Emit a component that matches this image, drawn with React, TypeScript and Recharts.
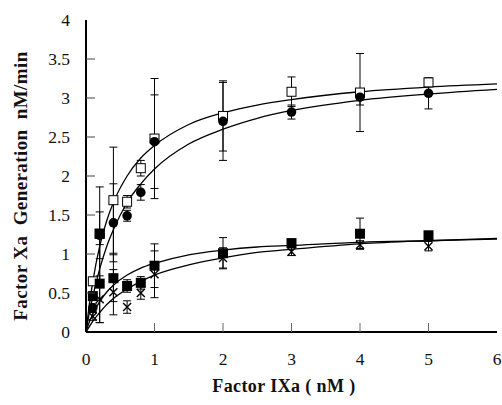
import { ComposedChart, Line, Scatter, ErrorBar, XAxis, YAxis } from 'recharts';

// measured points: [IXa nM] -> Xa generation nM/min, error = +/- half bar
const openSqX = [0.1, 0.2, 0.4, 0.6, 0.8, 1, 2, 3, 4, 5];
const openSqY = [0.65, 1.26, 1.69, 1.67, 2.1, 2.48, 2.77, 3.08, 3.07, 3.2];
const openSqErr = [0.05, 0.6, 0.68, 0.08, 0.1, 0.77, 0.45, 0.19, 0.5, 0.05];

const circleX = [0.1, 0.2, 0.4, 0.6, 0.8, 1, 2, 3, 4, 5];
const circleY = [0.31, 1.24, 1.4, 1.49, 1.79, 2.44, 2.7, 2.82, 3.01, 3.06];
const circleErr = [0.05, 0.3, 0.5, 0.07, 0.1, 0.6, 0.5, 0.09, 0.1, 0.2];

const fSqX = [0.1, 0.2, 0.2, 0.4, 0.6, 0.8, 1, 2, 3, 4, 5];
const fSqY = [0.46, 0.62, 1.26, 0.69, 0.59, 0.63, 0.85, 1.01, 1.14, 1.26, 1.24];
const fSqErr = [0.05, 0.5, 0, 0.3, 0.08, 0.08, 0.28, 0.2, 0.03, 0.2, 0.03];

const crossX = [0.1, 0.2, 0.4, 0.6, 0.8, 1, 2, 3, 4, 5];
const crossY = [0.2, 0.42, 0.51, 0.32, 0.5, 0.74, 0.95, 1.03, 1.12, 1.1];
const crossErr = [0.05, 0.3, 0.29, 0.08, 0.08, 0.3, 0.13, 0.05, 0.05, 0.06];

// fitted curves
const curveX = [0, 0.05, 0.1, 0.2, 0.3, 0.4, 0.6, 0.8, 1, 1.5, 2, 2.5, 3, 4, 5, 6];
const fitOpenSq = [0, 0.36, 0.65, 1.1, 1.42, 1.66, 2.0, 2.23, 2.39, 2.66, 2.81, 2.91, 2.98, 3.08, 3.14, 3.18];
const fitCircle = [0, 0.25, 0.46, 0.81, 1.09, 1.31, 1.66, 1.9, 2.09, 2.41, 2.6, 2.74, 2.84, 2.97, 3.05, 3.11];
const fitFSq = [0, 0.13, 0.23, 0.39, 0.51, 0.6, 0.73, 0.82, 0.88, 0.99, 1.05, 1.09, 1.11, 1.15, 1.17, 1.19];
const fitCross = [0, 0.07, 0.14, 0.25, 0.35, 0.43, 0.55, 0.65, 0.73, 0.86, 0.95, 1.02, 1.06, 1.13, 1.17, 1.2];

const xTicks = [0, 1, 2, 3, 4, 5, 6];
const yTicks = [0, 0.5, 1, 1.5, 2, 2.5, 3, 3.5, 4];

const pts = (xs: number[], ys: number[], es: number[]) => xs.map((x, i) => ({ x, y: ys[i], e: es[i] }));
const curve = (ys: number[]) => curveX.map((x, i) => ({ x, y: ys[i] }));

const FONT = '"Liberation Serif", "Times New Roman", serif';
const M = 16; // tick label gap
const TL = 9; // inward tick length
const tickText = { fontFamily: FONT, fontSize: 17.5, fill: '#111' };
const titleText = { fontFamily: FONT, fontWeight: 700, fill: '#111', letterSpacing: 0.4 };

const YTick = ({ x, y, payload }: any) => (
  <g>
    <text x={x} y={y} dy="0.35em" textAnchor="end" style={tickText}>
      {payload.value}
    </text>
    {payload.value > 0 && payload.value < 4 && (
      <line x1={x + M} x2={x + M + TL} y1={y} y2={y} stroke="#444" strokeWidth={1} />
    )}
  </g>
);

const XTick = ({ x, y, payload }: any) => (
  <g>
    <text x={x} y={y} dy="0.71em" textAnchor="middle" style={tickText}>
      {payload.value}
    </text>
    {payload.value > 0 && payload.value < 6 && (
      <line x1={x} x2={x} y1={y - 21} y2={y - 21 - TL} stroke="#666" strokeWidth={1} />
    )}
  </g>
);

const XTitle = () => (
  <text x={284} y={392} textAnchor="middle" xmlSpace="preserve" style={{ ...titleText, fontSize: 18 }}>
    Factor IXa ( nM )
  </text>
);

const YTitle = () => (
  <text x={27} y={186} transform="rotate(-90 27 186)" textAnchor="middle" xmlSpace="preserve" style={{ ...titleText, fontSize: 19, whiteSpace: 'pre' }}>
    {'Factor Xa  Generation  nM/min'}
  </text>
);

const OpenSquare = ({ cx, cy }: any) => (
  <rect x={cx - 4.5} y={cy - 4.5} width={9} height={9} fill="#fff" stroke="#000" strokeWidth={1} />
);
const FilledSquare = ({ cx, cy }: any) => <rect x={cx - 5} y={cy - 5} width={10} height={10} fill="#000" />;
const Dot = ({ cx, cy }: any) => <circle cx={cx} cy={cy} r={4.8} fill="#000" />;
const Cross = ({ cx, cy }: any) => (
  <path d={`M${cx - 4},${cy - 4}L${cx + 4},${cy + 4}M${cx - 4},${cy + 4}L${cx + 4},${cy - 4}`} stroke="#000" strokeWidth={1.4} />
);

export default function App() {
  const axisStyle = { stroke: '#000', strokeWidth: 2 };
  return (
    <div style={{ position: 'absolute', left: 0, top: 0, width: 502, height: 405, background: '#fff' }}>
      <ComposedChart width={502} height={405} margin={{ top: 20, right: 5, bottom: 0, left: 0 }}>
        <XAxis
          xAxisId="b"
          type="number"
          dataKey="x"
          domain={[0, 6]}
          ticks={xTicks}
          height={73}
          tickSize={0}
          tickMargin={21}
          tickLine={false}
          axisLine={axisStyle}
          tick={<XTick />}
          interval={0}
          label={{ content: <XTitle /> }}
        />
        <XAxis xAxisId="t" orientation="top" type="number" dataKey="x" domain={[0, 6]} height={0} tick={false} tickLine={false} axisLine={axisStyle} />
        <YAxis
          yAxisId="l"
          type="number"
          dataKey="y"
          domain={[0, 4]}
          ticks={yTicks}
          width={86}
          tickSize={0}
          tickMargin={M}
          tickLine={false}
          axisLine={axisStyle}
          tick={<YTick />}
          interval={0}
          label={{ content: <YTitle /> }}
        />
        <YAxis yAxisId="r" orientation="right" type="number" dataKey="y" domain={[0, 4]} width={0} tick={false} tickLine={false} axisLine={axisStyle} />

        <Line xAxisId="b" yAxisId="l" data={curve(fitOpenSq)} dataKey="y" type="monotone" dot={false} stroke="#000" strokeWidth={1.3} isAnimationActive={false} />
        <Line xAxisId="b" yAxisId="l" data={curve(fitCircle)} dataKey="y" type="monotone" dot={false} stroke="#000" strokeWidth={1.3} isAnimationActive={false} />
        <Line xAxisId="b" yAxisId="l" data={curve(fitFSq)} dataKey="y" type="monotone" dot={false} stroke="#000" strokeWidth={1.3} isAnimationActive={false} />
        <Line xAxisId="b" yAxisId="l" data={curve(fitCross)} dataKey="y" type="monotone" dot={false} stroke="#000" strokeWidth={1.3} isAnimationActive={false} />

        <Scatter xAxisId="b" yAxisId="l" data={pts(openSqX, openSqY, openSqErr)} dataKey="y" shape={<OpenSquare />} isAnimationActive={false}>
          <ErrorBar dataKey="e" direction="y" width={4} stroke="#000" strokeWidth={1} />
        </Scatter>
        <Scatter xAxisId="b" yAxisId="l" data={pts(circleX, circleY, circleErr)} dataKey="y" shape={<Dot />} isAnimationActive={false}>
          <ErrorBar dataKey="e" direction="y" width={4} stroke="#000" strokeWidth={1} />
        </Scatter>
        <Scatter xAxisId="b" yAxisId="l" data={pts(crossX, crossY, crossErr)} dataKey="y" shape={<Cross />} isAnimationActive={false}>
          <ErrorBar dataKey="e" direction="y" width={4} stroke="#000" strokeWidth={1} />
        </Scatter>
        <Scatter xAxisId="b" yAxisId="l" data={pts(fSqX, fSqY, fSqErr)} dataKey="y" shape={<FilledSquare />} isAnimationActive={false}>
          <ErrorBar dataKey="e" direction="y" width={4} stroke="#000" strokeWidth={1} />
        </Scatter>
      </ComposedChart>
    </div>
  );
}
